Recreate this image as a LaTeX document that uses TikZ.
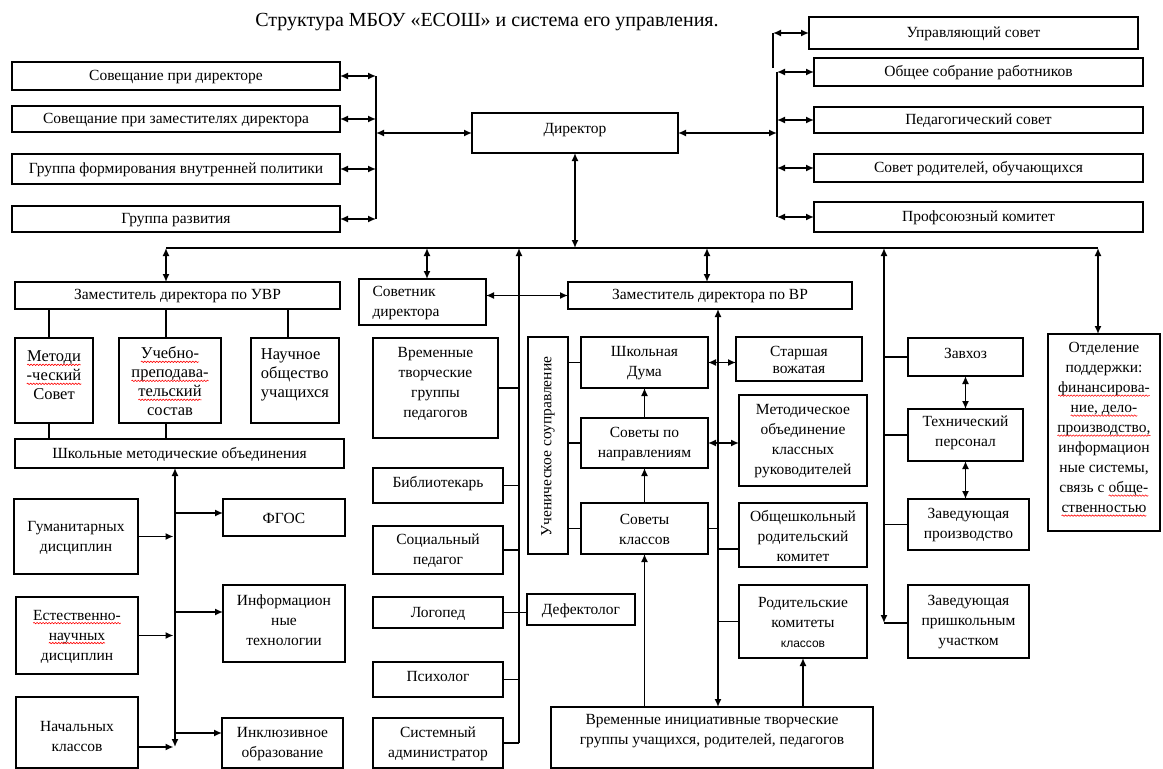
\documentclass[tikz,border=0pt]{standalone}
\usepackage{fontspec}
\setmainfont{Liberation Serif}
\setsansfont{Liberation Sans}
\usetikzlibrary{arrows.meta,decorations.pathmorphing}
\newcommand\myfs{\fontsize{15.5}{20}\selectfont}
\newcommand\mybig{\fontsize{16.5}{19}\selectfont}
\newcommand\sq[1]{\tikz[baseline=(w.base)]{\node[inner sep=0pt,outer sep=0pt,anchor=base](w){#1};
  \draw[red, line width=0.6pt, decorate, decoration={snake,amplitude=0.7pt,segment length=3pt}] ([yshift=-3pt]w.base west) -- ([yshift=-3pt]w.base east);}}
\tikzset{
  box/.style={draw, line width=1.5pt, inner sep=0pt, outer sep=0pt},
  txt/.style={align=center, font=\myfs, inner sep=0pt, yshift=-1pt},
  ln/.style={line width=1.5pt},
  dbl/.style={line width=1.5pt, {Latex[length=8pt,width=7pt]}-{Latex[length=8pt,width=7pt]}},
  arr/.style={line width=1.5pt, -{Latex[length=8pt,width=7pt]}}
}
\newcommand\bx[7][]{%
  \node[box, anchor=north west, minimum width={#5-#3}, minimum height={#6-#4}] (#2) at (#3,#4) {};
  \node[txt, #1] at (#2.center) {#7};}
\begin{document}
\begin{tikzpicture}[x=1pt,y=-1pt]
\useasboundingbox (0,0) rectangle (1163,769);
\node[font=\fontsize{20}{24}\selectfont] (title) at (487,22) {Структура МБОУ «ЕСОШ» и система его управления.};
% top left
\bx{sov1}{12}{62}{340}{90}{Совещание при директоре}
\bx{sov2}{12}{106}{340}{132}{Совещание при заместителях  директора}
\bx{grp1}{12}{154}{340}{184}{Группа формирования внутренней  политики}
\bx{grp2}{12}{206}{340}{232}{Группа развития}
\bx[yshift=4]{dir}{472}{113}{678}{153}{Директор}
% top right
\bx{us}{809}{17}{1138}{49}{Управляющий  совет}
\bx{os}{814}{58}{1143}{86}{Общее собрание работников}
\bx{ps}{814}{107}{1143}{133}{Педагогический совет}
\bx{sr}{814}{154}{1143}{182}{Совет родителей, обучающихся}
\bx{pk}{814}{202}{1143}{232}{Профсоюзный комитет}
% left section
\bx{uvr}{15}{282}{340}{309}{Заместитель директора по УВР}
\bx[font=\mybig,yshift=6]{met}{15}{338}{93}{423}{\sq{Методи}\\\sq{-ческий}\\Совет}
\bx[font=\mybig]{uch}{119}{338}{221}{423}{\sq{Учебно-}\\\sq{преподава-}\\\sq{тельский}\\состав}
\bx[font=\mybig,yshift=7,align=left]{nau}{251}{338}{339}{423}{Научное\\общество\\учащихся}
\bx{shmo}{15}{439}{344}{468}{Школьные методические объединения}
\bx{gum}{14}{499}{138}{574}{Гуманитарных\\дисциплин}
\bx{est}{16}{597}{138}{674}{\sq{Естественно-}\\\sq{научных}\\дисциплин}
\bx[yshift=-3]{nach}{16}{697}{138}{768}{Начальных\\классов}
\bx{fgos}{223}{499}{345}{536}{ФГОС}
\bx[yshift=4]{inf}{223}{585}{345}{662}{Информацион\\ные\\технологии}
\bx{inkl}{222}{718}{343}{768}{Инклюзивное\\образование}
% middle
\bx[align=left,text width=100pt]{sovd}{359}{279}{486}{325}{Советник\\директора}
\bx{zvr}{568}{282}{852}{309}{Заместитель директора по ВР}
\bx[yshift=5]{vtg}{373}{338}{498}{438}{Временные\\творческие\\группы\\педагогов}
\bx[yshift=3]{bib}{373}{468}{503}{503}{Библиотекарь}
\bx{soc}{373}{526}{503}{574}{Социальный\\педагог}
\bx{log}{373}{597}{503}{628}{Логопед}
\bx{def}{527}{594}{635}{625}{Дефектолог}
\bx[yshift=4]{psy}{373}{662}{503}{697}{Психолог}
\bx{sys}{373}{718}{503}{768}{Системный\\администратор}
\bx[rotate=90,font=\fontsize{15.5}{17}\selectfont]{usp}{528}{337}{568}{554}{Ученическое соуправление}
\bx{duma}{581}{337}{708}{388}{Школьная\\Дума}
\bx{napr}{581}{418}{708}{468}{Советы по\\направлениям}
\bx{klass}{581}{503}{708}{554}{Советы\\классов}
\bx[font=\fontsize{15.5}{17}\selectfont]{star}{736}{337}{862}{381}{Старшая\\вожатая}
\bx{mo}{739}{395}{867}{486}{Методическое\\объединение\\классных\\руководителей}
\bx{obsh}{739}{503}{867}{567}{Общешкольный\\родительский\\комитет}
\bx{rk}{739}{585}{867}{658}{Родительские\\комитеты\\{\sffamily\fontsize{12}{20}\selectfont классов}}
\bx[yshift=7]{vrem}{551}{707}{873}{768}{Временные инициативные  творческие\\группы учащихся, родителей, педагогов}
% right
\bx[yshift=5]{zav}{908}{338}{1023}{376}{Завхоз}
\bx[yshift=3]{tech}{908}{409}{1023}{461}{Технический\\персонал}
\bx{zprod}{908}{499}{1029}{550}{Заведующая\\производство}
\bx{zpr}{908}{585}{1029}{658}{Заведующая\\пришкольным\\участком}
\bx[yshift=4]{otd}{1048}{334}{1160}{531}{Отделение\\поддержки:\\\sq{финансирова-}\\\sq{ние, дело-}\\\sq{производство,}\\информацион\\ные системы,\\связь с \sq{обще-}\\\sq{ственностью}}
% coordinates
\coordinate (bL) at (376,0);
\coordinate (bR) at (777,0);
\coordinate (uc) at (773,68);
\coordinate (b1) at (166,248);
\coordinate (b2) at (427,248);
\coordinate (b3) at (519,248);
\coordinate (b4) at (707,248);
\coordinate (b5) at (884,248);
\coordinate (b5e) at (884,623);
\coordinate (b6) at (1098,248);
\coordinate (x1) at (49,0);
\coordinate (x2) at (166,0);
\coordinate (x3) at (288,0);
\coordinate (v2) at (175,747);
\coordinate (v7) at (718,0);
\coordinate (o1) at (718,549);
\coordinate (nE) at (138,747);
\coordinate (fW) at (223,513);
\coordinate (iW) at (223,612);
\coordinate (kW) at (222,733);
% left bus
\draw[ln] (sov1.east -| bL) -- (grp2.east -| bL);
\foreach \n in {sov1,sov2,grp1,grp2} \draw[dbl] (\n.east) -- (\n.east -| bL);
\draw[dbl] (dir.west) -- (dir.west -| bL);
% right bus
\draw[ln] (os.west -| bR) -- (pk.west -| bR);
\foreach \n in {os,ps,sr,pk} \draw[dbl] (\n.west -| bR) -- (\n.west);
\draw[dbl] (dir.east) -- (dir.east -| bR);
\draw[ln] (uc) -- (uc |- us.west);
\draw[dbl] (uc |- us.west) -- (us.west);
% main bus
\draw[ln] (b1) -- (b6);
\draw[dbl] (dir.south) -- (dir.south |- b1);
\draw[dbl] (b1) -- (b1 |- uvr.north);
\draw[dbl] (b2) -- (b2 |- sovd.north);
\draw[arr] (b3 |- sys.east) -- (b3);
\draw[dbl] (b4) -- (b4 |- zvr.north);
\draw[dbl] (b5) -- (b5e);
\draw[ln] (b5e) -- (b5e -| zpr.west);
\draw[dbl] (b6) -- (b6 |- otd.north);
% left section
\foreach \c/\n in {x1/met,x2/uch,x3/nau} \draw[ln] (\c |- uvr.south) -- (\c |- \n.north);
\draw[ln] (x1 |- met.south) -- (x1 |- shmo.north);
\draw[ln] (x2 |- uch.south) -- (x2 |- shmo.north);
\draw[dbl] (v2 |- shmo.south) -- (v2);
\draw[arr, shorten >=1.5pt] (gum.east) -- (gum.east -| v2);
\draw[arr, shorten >=1.5pt] (est.east) -- (est.east -| v2);
\draw[arr, shorten >=1.5pt] (nE) -- (v2);
\draw[arr] (fW -| v2) -- (fW);
\draw[arr] (iW -| v2) -- (iW);
\draw[arr] (kW -| v2) -- (kW);
% middle
\draw[dbl] (sovd.east |- zvr.west) -- (zvr.west);
\foreach \n in {vtg,bib,soc,psy,sys} \draw[ln] (\n.east) -- (\n.east -| b3);
\draw[ln] (log.east) -- (log.east -| def.west);
\foreach \n in {duma,napr,klass} \draw[ln] (\n.west -| usp.east) -- (\n.west);
\draw[arr] (klass.north) -- (napr.south);
\draw[arr] (napr.north) -- (duma.south);
\draw[arr] (klass.south |- vrem.north) -- (klass.south);
\draw[arr] (rk.south |- vrem.north) -- (rk.south);
\draw[dbl] (v7 |- zvr.south) -- (v7 |- vrem.north);
\draw[dbl] (duma.east) -- (duma.east -| star.west);
\draw[dbl] (napr.east) -- (napr.east -| mo.west);
\draw[ln] (klass.east) -- (klass.east -| v7);
\draw[ln] (o1) -- (o1 -| obsh.west);
\draw[ln] (rk.west -| v7) -- (rk.west);
% right section
\foreach \n in {zav,tech,zprod} \draw[ln] (\n.west -| b5) -- (\n.west);
\draw[dbl] (zav.south) -- (tech.north);
\draw[dbl] (tech.south) -- (tech.south |- zprod.north);
\end{tikzpicture}
\end{document}
